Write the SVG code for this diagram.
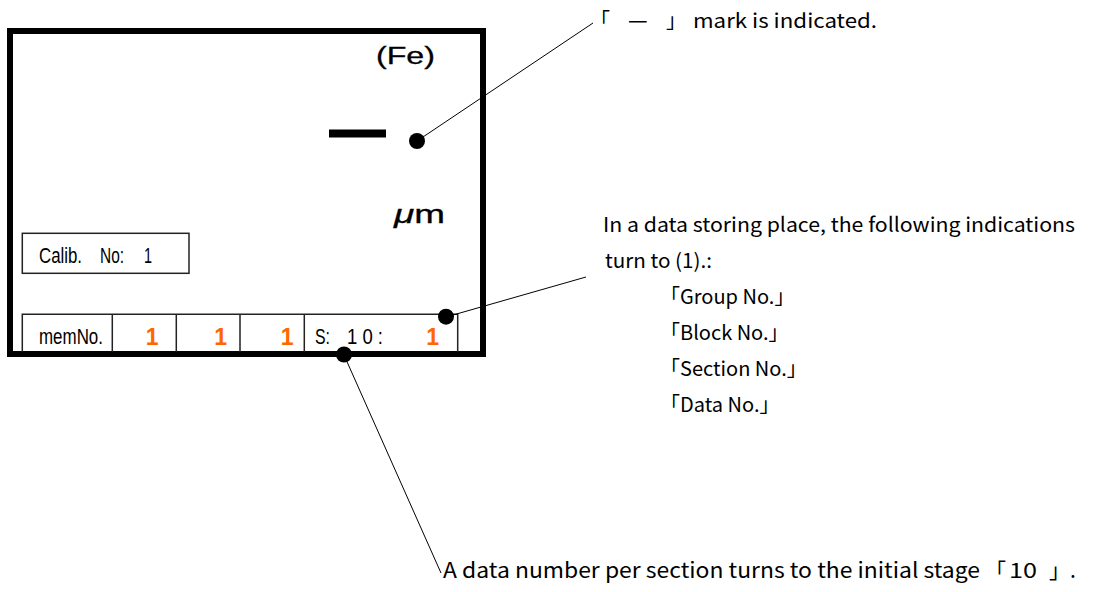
<svg xmlns="http://www.w3.org/2000/svg" width="1108" height="592" viewBox="0 0 1108 592">
<style>
.t{font-family:"Noto Sans CJK JP","Liberation Sans",sans-serif;fill:#000}
.s{font-family:"Liberation Sans","Noto Sans CJK JP",sans-serif;fill:#000}
.m{stroke:#000;stroke-width:0.3}
.o{font-family:"Liberation Sans",sans-serif;fill:#FF6600;font-size:23px;font-weight:bold}
.cell{fill:none;stroke:#222;stroke-width:1.5}
.ln{stroke:#000;stroke-width:1;fill:none}
.dot{fill:#000}
</style>
<rect width="1108" height="592" fill="#fff"/>
<g id="display">
<rect x="10" y="31" width="473" height="323" fill="none" stroke="#000" stroke-width="6"/>
<text class="s m" x="376" y="64" font-size="23" textLength="59" lengthAdjust="spacingAndGlyphs">(Fe)</text>
<rect x="329" y="129.5" width="57" height="8" fill="#000"/>
<text class="s m" x="394" y="223" font-size="25" textLength="51" lengthAdjust="spacingAndGlyphs"><tspan font-style="italic">μ</tspan>m</text>
</g>
<g id="calib">
<rect class="cell" x="22.3" y="233.3" width="166.7" height="40"/>
<text class="s" x="39" y="263" font-size="22" textLength="43" lengthAdjust="spacingAndGlyphs">Calib.</text>
<text class="s" x="100" y="263" font-size="22" textLength="24" lengthAdjust="spacingAndGlyphs">No:</text>
<text class="s" x="144" y="263" font-size="22" textLength="8" lengthAdjust="spacingAndGlyphs">1</text>
</g>
<g id="memrow">
<path class="cell" d="M22.3 352V314.3H457.7V352M112.3 314.3V352M176.3 314.3V352M240 314.3V352M304.3 314.3V352"/>
<text class="s" x="39" y="344" font-size="22" textLength="64" lengthAdjust="spacingAndGlyphs">memNo.</text>
<text class="o" x="158.5" y="345" text-anchor="end">1</text>
<text class="o" x="227" y="345" text-anchor="end">1</text>
<text class="o" x="293.5" y="345" text-anchor="end">1</text>
<text class="s" x="315" y="344" font-size="22" textLength="15" lengthAdjust="spacingAndGlyphs">S:</text>
<text class="s" x="347" y="344" font-size="22" textLength="36" lengthAdjust="spacingAndGlyphs">1 0 :</text>
<text class="o" x="439" y="345" text-anchor="end">1</text>
</g>
<g id="connectors">
<line class="ln" x1="417" y1="141" x2="593" y2="23"/>
<line class="ln" x1="446" y1="317" x2="586" y2="277"/>
<line class="ln" x1="344" y1="355" x2="441" y2="573"/>
<circle class="dot" cx="417" cy="141" r="8"/>
<circle class="dot" cx="446" cy="316.7" r="8"/>
<circle class="dot" cx="344" cy="354.5" r="8"/>
</g>
<g id="note1">
<text class="t" x="590" y="28" font-size="20">「</text>
<text class="t" x="628" y="28" font-size="22">—</text>
<text class="t" x="666" y="28" font-size="20">」</text>
<text class="t" x="693" y="28" font-size="20" textLength="184" lengthAdjust="spacingAndGlyphs">mark is indicated.</text>
</g>
<g id="note2">
<text class="t" x="603" y="232" font-size="20" textLength="472" lengthAdjust="spacingAndGlyphs">In a data storing place, the following indications</text>
<text class="t" x="605" y="268" font-size="20" textLength="107" lengthAdjust="spacingAndGlyphs">turn to (1).:</text>
<text class="t" x="660" y="304" font-size="20">「Group No.」</text>
<text class="t" x="660" y="340" font-size="20">「Block No.」</text>
<text class="t" x="660" y="376" font-size="20">「Section No.」</text>
<text class="t" x="660" y="412" font-size="20">「Data No.」</text>
</g>
<g id="note3">
<text class="t" x="443" y="578" font-size="21" textLength="537" lengthAdjust="spacingAndGlyphs">A data number per section turns to the initial stage</text>
<text class="t" x="985" y="578" font-size="21">「</text>
<text class="t" x="1009" y="578" font-size="21" textLength="28" lengthAdjust="spacingAndGlyphs">10</text>
<text class="t" x="1049" y="578" font-size="21">」.</text>
</g>
</svg>
